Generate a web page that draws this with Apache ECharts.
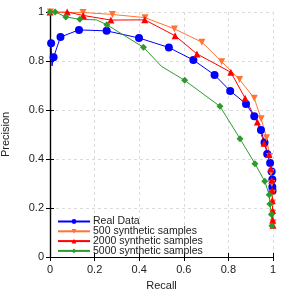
<!DOCTYPE html>
<html><head><meta charset="utf-8">
<script src="https://cdn.jsdelivr.net/npm/echarts@6/dist/echarts.min.js"></script>
<style>html,body{margin:0;padding:0;background:#fff}#c{width:291px;height:291px}</style>
</head><body><div id="c"></div>
<script>
const seriesNames = ['Real Data','500 synthetic samples','2000 synthetic samples','5000 synthetic samples'];
const xTicks = [0,0.2,0.4,0.6,0.8,1];
const yTicks = [0,0.2,0.4,0.6,0.8,1];
// [recall, precision]
const realData = [[0.005,0.872],[0.009,0.78],[0.016,0.815],[0.047,0.898],[0.130,0.927],[0.254,0.923],[0.399,0.894],[0.533,0.855],[0.643,0.804],[0.738,0.743],[0.808,0.678],[0.879,0.625],[0.916,0.574],[0.946,0.518],[0.962,0.467],[0.974,0.420],[0.987,0.384],[0.994,0.349],[0.997,0.316],[0.997,0.286],[0.998,0.27]];
const syn500 = [[0.002,1.0],[0.148,0.998],[0.280,0.990],[0.426,0.977],[0.558,0.931],[0.681,0.877],[0.770,0.797],[0.850,0.724],[0.916,0.648],[0.947,0.564],[0.971,0.487],[0.985,0.41],[0.991,0.345],[0.995,0.30],[0.997,0.26],[0.998,0.22],[0.999,0.18],[1.0,0.14]];
const syn2000 = [[0.0,1.0],[0.077,1.0],[0.149,0.986],[0.273,0.967],[0.425,0.968],[0.561,0.903],[0.659,0.829],[0.811,0.754],[0.875,0.648],[0.930,0.551],[0.960,0.464],[0.982,0.418],[0.990,0.36],[0.994,0.313],[0.996,0.27],[0.997,0.23],[0.998,0.19],[0.999,0.15],[1.0,0.13]];
const syn5000 = [[0.0,1.0],[0.023,1.0],[0.071,0.980],[0.134,0.970],[0.208,0.968],[0.255,0.948],[0.419,0.856],[0.50,0.778],[0.604,0.721],[0.762,0.615],[0.852,0.483],[0.919,0.381],[0.963,0.309],[0.983,0.254],[0.986,0.216],[0.993,0.173],[0.995,0.128]];
const extraVertex5000 = [4,7]; // line bends without marker
const extraVertexReal = [1];

function mk(data, noMark){
  return data.map((d,i)=> noMark.includes(i) ? {value:d, symbol:'none'} : {value:d});
}
const chart = echarts.init(document.getElementById('c'));
const font = 'Liberation Sans, Arial, sans-serif';
const lbl = {fontFamily:font,fontSize:11,color:'#222'};
const split = {lineStyle:{color:'#dcdcdc',type:[3,3]}};
const tick = {inside:true,length:4,lineStyle:{color:'#000'}};
const line = {lineStyle:{color:'#000',width:1.2}};
chart.setOption({
  animation:false,
  backgroundColor:'#fff',
  grid:{left:50,right:18,top:12,bottom:34,containLabel:false,outerBoundsMode:'none'},
  legend:{
    orient:'vertical',left:57,top:216,itemWidth:32,itemHeight:6,itemGap:-1.2,padding:0,
    textStyle:{fontFamily:font,fontSize:10.5,lineHeight:8,color:'#222',padding:[0,0,0,-2]},
    data:seriesNames
  },
  xAxis:[{type:'value',min:0,max:1,interval:0.2,name:'Recall',nameLocation:'middle',nameGap:23,
    nameTextStyle:{fontFamily:font,fontSize:11,color:'#222'},
    axisLine:line,axisTick:tick,
    axisLabel:Object.assign({margin:7,formatter:v=>String(+v.toFixed(1))},lbl),
    splitLine:split},
    {type:'value',min:0,max:1,interval:0.2,position:'top',axisLine:line,axisTick:tick,axisLabel:{show:false},splitLine:{show:false}}],
  yAxis:[{type:'value',min:0,max:1,interval:0.2,name:'Precision',nameLocation:'middle',nameGap:39,
    nameTextStyle:{fontFamily:font,fontSize:11,color:'#222'},
    axisLine:line,axisTick:tick,
    axisLabel:Object.assign({margin:6,formatter:v=>String(+v.toFixed(1))},lbl),
    splitLine:split},
    {type:'value',min:0,max:1,interval:0.2,position:'right',axisLine:line,axisTick:tick,axisLabel:{show:false},splitLine:{show:false}}],
  series:[
    {name:seriesNames[0],type:'line',data:mk(realData,extraVertexReal),symbol:'circle',symbolSize:8,color:'#0000ff',lineStyle:{width:1}},
    {name:seriesNames[1],type:'line',data:mk(syn500,[]),symbol:'triangle',symbolRotate:180,symbolSize:7,color:'#ff7433',lineStyle:{width:1}},
    {name:seriesNames[2],type:'line',data:mk(syn2000,[]),symbol:'triangle',symbolSize:7,color:'#ff0000',lineStyle:{width:1}},
    {name:seriesNames[3],type:'line',data:mk(syn5000,extraVertex5000),symbol:'diamond',symbolSize:7,color:'#2e9a2e',lineStyle:{width:1}}
  ]
});
</script></body></html>
